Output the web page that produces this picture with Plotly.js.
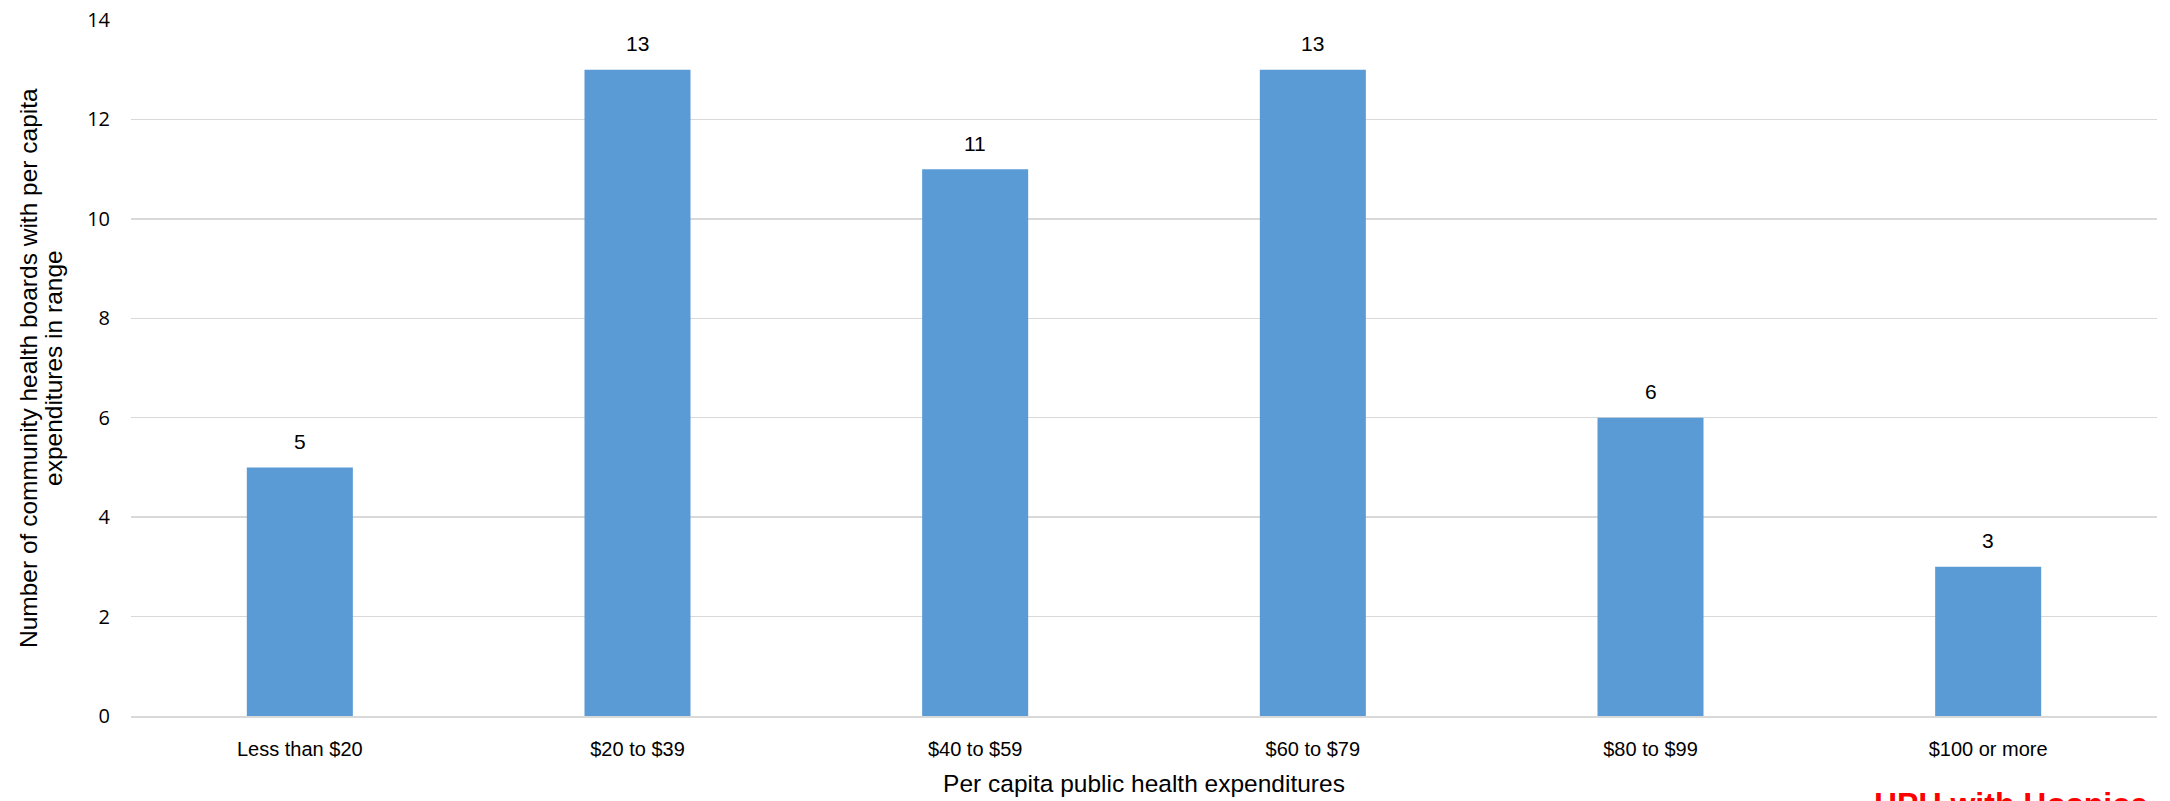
<!DOCTYPE html>
<html><head><meta charset="utf-8">
<script src="https://cdn.plot.ly/plotly-3.0.1.min.js"></script>
<style>html,body{margin:0;padding:0;background:#fff}#chart{width:2170px;height:801px}</style>
</head><body><div id="chart"></div>
<script>
const categories = ["Less than $20", "$20 to $39", "$40 to $59", "$60 to $79", "$80 to $99", "$100 or more"];
const counts = [5, 13, 11, 13, 6, 3];
const yTicks = [0, 2, 4, 6, 8, 10, 12, 14];
const yTitleLines = ["Number of community health boards with per capita", "expenditures in range"];
const xTitle = "Per capita public health expenditures";
const watermark = "HPU with Hospice";

const font = "Liberation Sans, Arial, sans-serif";
const plotTop = 20, plotBottom = 716, plotLeft = 131;
const plotH = plotBottom - plotTop;

const labelAnns = categories.map((c, i) => ({
  x: c, y: counts[i], xref: "x", yref: "y",
  text: String(counts[i]), showarrow: false,
  yanchor: "middle", yshift: 26,
  font: {family: font, size: 21, color: "#000"}
}));

const yTitleAnns = yTitleLines.map((t, i) => ({
  text: t, xref: "paper", yref: "paper",
  x: -(plotLeft - (i === 0 ? 28 : 53)) / 2026, y: 0.5,
  xanchor: "center", yanchor: "middle",
  textangle: -90, showarrow: false,
  font: {family: font, size: 24.5, color: "#000"}
}));

Plotly.newPlot("chart", [{
  type: "bar",
  x: categories,
  y: counts,
  marker: {color: "#5B9BD5"},
  hoverinfo: "none"
}], {
  width: 2170, height: 801,
  margin: {l: 131, r: 13, t: 20, b: 85},
  paper_bgcolor: "#fff", plot_bgcolor: "#fff",
  bargap: 0.686,
  showlegend: false,
  xaxis: {
    type: "category",
    showgrid: false,
    showline: true, linecolor: "#d9d9d9", linewidth: 2,
    ticks: "",
    tickfont: {family: font, size: 20, color: "#000"},
    ticklabelstandoff: 14,
    title: {text: xTitle, font: {family: font, size: 24.5, color: "#000"}, standoff: 16},
    automargin: false
  },
  yaxis: {
    range: [0, 14],
    tickvals: yTicks,
    showgrid: true, gridcolor: "#d9d9d9", gridwidth: 1.5,
    zeroline: false,
    showline: false,
    ticks: "",
    tickfont: {family: "Open Sans, sans-serif", size: 20, color: "#000"},
    ticklabelstandoff: 20,
    automargin: false
  },
  annotations: labelAnns.concat(yTitleAnns, [{
    text: "<b>" + watermark + "</b>",
    xref: "paper", yref: "paper",
    x: (1872 - plotLeft) / 2026, y: -(784 - plotBottom) / plotH,
    xanchor: "left", yanchor: "top",
    showarrow: false,
    font: {family: font, size: 32, color: "#ff0000"}
  }])
}, {staticPlot: true});
</script></body></html>
